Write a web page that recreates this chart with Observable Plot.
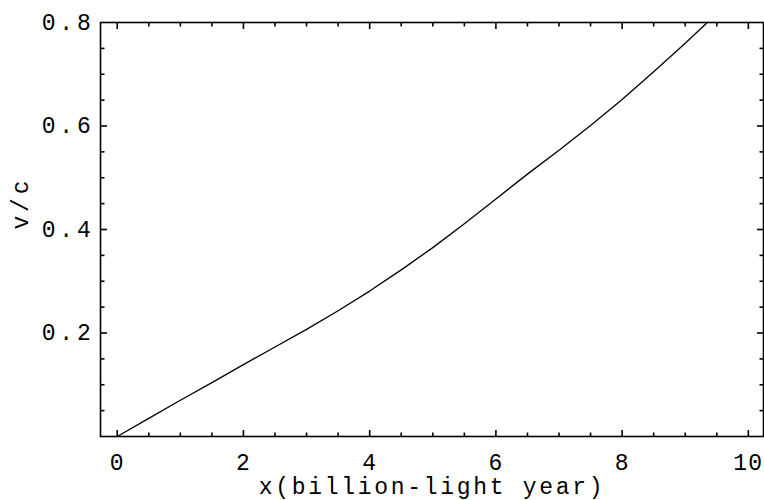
<!DOCTYPE html>
<html><head><meta charset="utf-8">
<script src="https://cdn.jsdelivr.net/npm/d3@7"></script>
<script src="https://cdn.jsdelivr.net/npm/@observablehq/plot@0.6"></script>
<style>body{margin:0;background:#fff}</style>
</head><body><div id="chart"></div>
<script>
// Data
const xValues = [0, 0.5, 1, 1.5, 2, 2.5, 3, 3.5, 4, 4.5, 5, 5.5, 6, 6.5, 7, 7.5, 8, 8.5, 9, 9.35];
const vValues = [0, 0.035, 0.07, 0.104, 0.139, 0.173, 0.207, 0.243, 0.281, 0.322, 0.365, 0.411, 0.459, 0.507, 0.553, 0.601, 0.651, 0.705, 0.76, 0.8];

// Ticks and labels
const xMajorTicks = [0, 2, 4, 6, 8, 10];
const xTickLabels = ["0", "2", "4", "6", "8", "10"];
const xMinorTicks = [0.5, 1, 1.5, 2.5, 3, 3.5, 4.5, 5, 5.5, 6.5, 7, 7.5, 8.5, 9, 9.5];
const yMajorTicks = [0.2, 0.4, 0.6];
const yLabelTicks = [0.2, 0.4, 0.6, 0.8];
const yTickLabels = ["0.2", "0.4", "0.6", "0.8"];
const yMinorTicks = [0.05, 0.1, 0.15, 0.25, 0.3, 0.35, 0.45, 0.5, 0.55, 0.65, 0.7, 0.75];
const xLabel = "x(billion-light year)";
const yLabel = "v/c";

const data = xValues.map((x, i) => ({x, v: vValues[i]}));

const W = 764, H = 500, mL = 100, mR = 1, mT = 22, mB = 64;
const majorLen = 6.5, minorLen = 4;
const font = {fontFamily: "Liberation Mono", fontSize: 23, fill: "black"};

// Inward tick symbols; length = dot radius
const tickSym = (dx, dy) => ({
  draw(ctx, size) {
    const l = Math.sqrt(size / Math.PI);
    ctx.moveTo(0, 0);
    ctx.lineTo(dx * l, dy * l);
  }
});
const up = tickSym(0, -1), down = tickSym(0, 1), right = tickSym(1, 0), left = tickSym(-1, 0);
const tk = {stroke: "black", strokeWidth: 1.6, fill: "none"};
const xMin = -0.265, xMax = 10.24, yMin = 0, yMax = 0.8;

const chart = Plot.plot({
  width: W, height: H,
  marginLeft: mL, marginRight: mR, marginTop: mT, marginBottom: mB,
  x: {domain: [xMin, xMax], axis: null},
  y: {domain: [yMin, yMax], axis: null},
  style: {background: "white"},
  marks: [
    // bottom ticks
    Plot.dot(xMajorTicks, {x: d => d, y: yMin, r: majorLen, symbol: up, ...tk}),
    Plot.dot(xMinorTicks, {x: d => d, y: yMin, r: minorLen, symbol: up, ...tk}),
    // top ticks
    Plot.dot(xMajorTicks, {x: d => d, y: yMax, r: majorLen, symbol: down, ...tk}),
    Plot.dot(xMinorTicks, {x: d => d, y: yMax, r: minorLen, symbol: down, ...tk}),
    // left ticks
    Plot.dot(yMajorTicks, {y: d => d, x: xMin, r: majorLen, symbol: right, ...tk}),
    Plot.dot(yMinorTicks, {y: d => d, x: xMin, r: minorLen, symbol: right, ...tk}),
    // right ticks
    Plot.dot(yMajorTicks, {y: d => d, x: xMax, r: majorLen, symbol: left, ...tk}),
    Plot.dot(yMinorTicks, {y: d => d, x: xMax, r: minorLen, symbol: left, ...tk}),
    Plot.line(data, {x: "x", y: "v", stroke: "black", strokeWidth: 1.3}),
    Plot.frame({stroke: "black", strokeWidth: 1.6}),
    Plot.text(xMajorTicks, {x: d => d, frameAnchor: "bottom", lineAnchor: "bottom", dy: 33, text: (d, i) => xTickLabels[i], ...font}),
    Plot.text(yLabelTicks, {y: d => d, frameAnchor: "left", dx: -6, textAnchor: "end", text: (d, i) => yTickLabels[i], ...font}),
    Plot.text([xLabel], {frameAnchor: "bottom", lineAnchor: "bottom", dy: 57, text: d => d, ...font}),
    Plot.text([yLabel], {frameAnchor: "left", dx: -80, rotate: -90, text: d => d, ...font})
  ]
});

const sel = d3.select(chart).selectAll("text");
sel.filter(function() { return yTickLabels.includes(this.textContent) || this.textContent === yLabel; })
  .attr("letter-spacing", 3.8);
sel.filter(function() { return this.textContent === xLabel; })
  .attr("letter-spacing", 2.7);
sel.filter(function() { return xTickLabels.includes(this.textContent); })
  .attr("letter-spacing", 1.2);

document.getElementById("chart").appendChild(chart);
</script></body></html>
